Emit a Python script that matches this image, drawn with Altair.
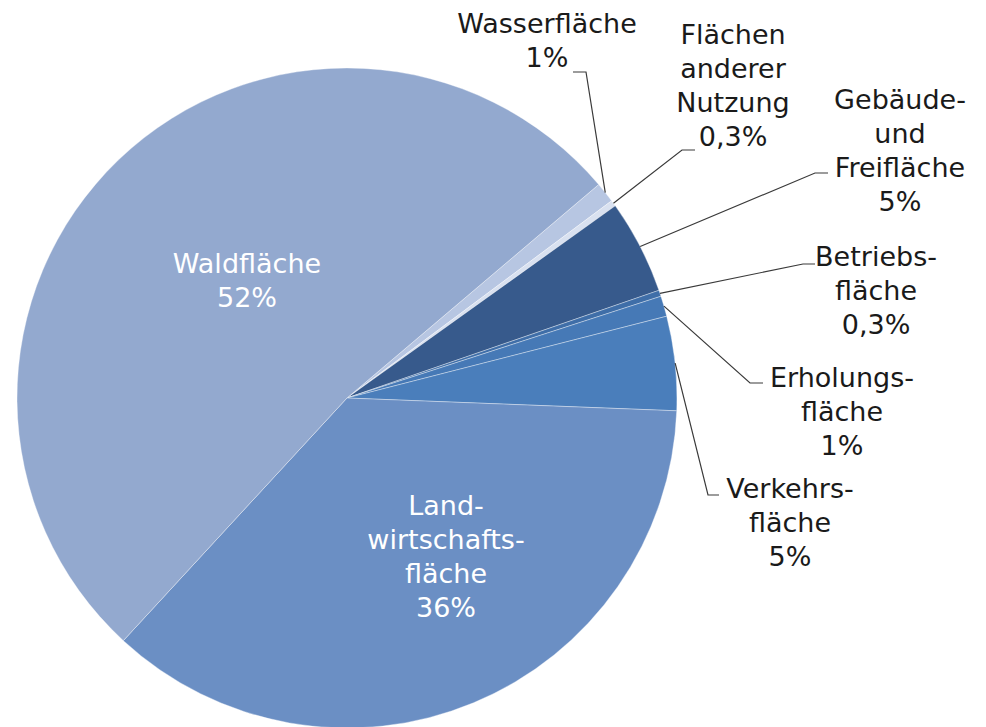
import math
import altair as alt
import pandas as pd

# ---- data ----
categories = ["Wasserfläche", "Flächen anderer Nutzung", "Gebäude- und Freifläche",
              "Betriebsfläche", "Erholungsfläche", "Verkehrsfläche",
              "Landwirtschaftsfläche", "Waldfläche"]
shares = [1.0, 0.3, 4.6, 0.3, 1.0, 4.6, 36.2, 51.9]
pct_labels = ["1%", "0,3%", "5%", "0,3%", "1%", "5%", "36%", "52%"]
name_lines = ["Wasserfläche", "Flächen\nanderer\nNutzung", "Gebäude-\nund\nFreifläche",
              "Betriebs-\nfläche", "Erholungs-\nfläche", "Verkehrs-\nfläche",
              "Land-\nwirtschafts-\nfläche", "Waldfläche"]
colors = ["#B7C6E2", "#D9E1F0", "#375A8C", "#3F6EA8", "#4679B6", "#4A7EBB",
          "#6B8FC4", "#93A9CF"]

# ---- layout (page pixel coordinates) ----
CX, CY, R = 347, 398, 330
START_DEG = 49.7
label_x = [547, 733, 900, 876, 842, 790, 446, 247]
label_y = [33, 44, 109, 266, 387, 498, 515, 273]
label_color = ["#1a1a1a"] * 6 + ["#ffffff", "#ffffff"]
elbow = [(586, 72), (682, 150), (815, 173), (803, 264), (750, 383), (708, 495)]
line_end = [(573, 72), (695, 150), (828, 173), (815, 264), (763, 383), (719, 495)]

W, H = 970, 719
xs = alt.Scale(domain=[8, 8 + W])
ys = alt.Scale(domain=[8 + H, 8])

df = pd.DataFrame({"cat": categories, "share": shares, "ord": list(range(len(categories)))})

a0 = math.radians(START_DEG)
pie = alt.Chart(df).mark_arc(radius=R, stroke="#ffffff", strokeWidth=0.6, strokeOpacity=0.6).encode(
    theta=alt.Theta("share:Q", stack=True, scale=alt.Scale(range=[a0, a0 + 2 * math.pi])),
    order=alt.Order("ord:Q"),
    color=alt.Color("cat:N", scale=alt.Scale(domain=categories, range=colors), legend=None),
    x=alt.value(CX - 8),
    y=alt.value(CY - 8),
)

# leader lines: start at slice mid-angle on the rim
total = sum(shares)
rows = []
cum = 0.0
for i, s in enumerate(shares):
    mid = START_DEG + (cum + s / 2) / total * 360
    cum += s
    if i >= len(elbow):
        continue
    sx = CX + R * math.sin(math.radians(mid))
    sy = CY - R * math.cos(math.radians(mid))
    pts = [(sx, sy), elbow[i], line_end[i]]
    for k, (px, py) in enumerate(pts):
        rows.append({"cat": categories[i], "k": k, "px": px, "py": py})
lines_df = pd.DataFrame(rows)

leaders = alt.Chart(lines_df).mark_line(color="#3a3a3a", strokeWidth=1.2).encode(
    x=alt.X("px:Q", scale=xs, axis=None),
    y=alt.Y("py:Q", scale=ys, axis=None),
    detail="cat:N",
    order="k:Q",
)

text_df = pd.DataFrame({
    "txt": [n + "\n" + p for n, p in zip(name_lines, pct_labels)],
    "tx": label_x, "ty": label_y, "tc": label_color,
})
labels = alt.Chart(text_df).mark_text(
    font="DejaVu Sans", fontSize=27, lineBreak="\n", lineHeight=34,
    align="center", baseline="alphabetic",
).encode(
    x=alt.X("tx:Q", scale=xs, axis=None),
    y=alt.Y("ty:Q", scale=ys, axis=None),
    text="txt:N",
    color=alt.Color("tc:N", scale=None),
)

chart = alt.layer(pie, leaders, labels).properties(
    width=W, height=H, padding=0, autosize=alt.AutoSizeParams(type="none")
).configure_view(stroke=None)

chart.save("out.html", embed_options={"renderer": "svg", "actions": False})
